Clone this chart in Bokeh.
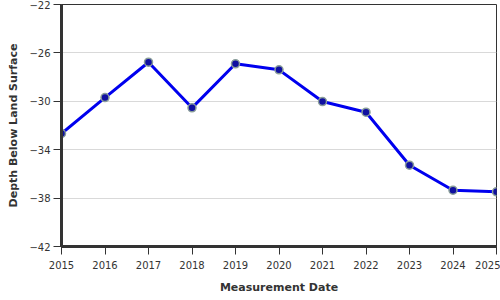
from bokeh.plotting import figure
from bokeh.models import FixedTicker, Range1d
from bokeh.embed import file_html
from bokeh.resources import INLINE

years = [2015, 2016, 2017, 2018, 2019, 2020, 2021, 2022, 2023, 2024, 2025]
depth = [-32.66, -29.69, -26.77, -30.54, -26.9, -27.4, -30.02, -30.9, -35.28, -37.35, -37.48]
x_ticks = [2015, 2016, 2017, 2018, 2019, 2020, 2021, 2022, 2023, 2024, 2025]
y_ticks = [-42, -38, -34, -30, -26, -22]

p = figure(width=500, height=300, output_backend="svg", toolbar_location=None,
           frame_width=435, frame_height=242,
           x_range=Range1d(2015, 2025), y_range=Range1d(-42, -22),
           min_border_left=61, min_border_right=4, min_border_top=4, min_border_bottom=54)

p.background_fill_color = "white"
p.border_fill_color = "white"
p.outline_line_color = "#333333"
p.outline_line_width = 1

p.xgrid.grid_line_color = None
p.ygrid.grid_line_color = "#d9d9d9"
p.ygrid.grid_line_width = 1

font = "DejaVu Sans"
for ax in (p.xaxis[0], p.yaxis[0]):
    ax.axis_line_color = "#333333"
    ax.axis_line_width = 3
    ax.major_tick_line_color = "#333333"
    ax.major_tick_line_width = 1
    ax.major_tick_out = 8
    ax.major_tick_in = 0
    ax.minor_tick_line_color = None
    ax.major_label_text_font = font
    ax.major_label_text_font_size = "10px"
    ax.major_label_text_color = "#333333"
    ax.axis_label_text_font = font
    ax.axis_label_text_font_size = "11px"
    ax.axis_label_text_font_style = "bold"
    ax.axis_label_text_color = "#333333"

p.xaxis[0].ticker = FixedTicker(ticks=x_ticks)
p.yaxis[0].ticker = FixedTicker(ticks=y_ticks)
p.xaxis[0].axis_label = "Measurement Date"
p.yaxis[0].axis_label = "Depth Below Land Surface"
p.xaxis[0].major_label_standoff = 6
p.yaxis[0].major_label_standoff = 3
p.xaxis[0].axis_label_standoff = 9
p.yaxis[0].axis_label_standoff = 6

p.line(years, depth, line_color="#0000ee", line_width=3)
p.scatter(years, depth, size=8, fill_color="#1010a0", line_color="#8a9e9a", line_width=1.5)

open("out.html", "w").write(file_html(p, INLINE))
